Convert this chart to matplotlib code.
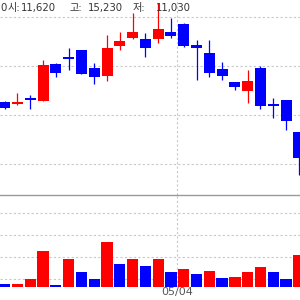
import matplotlib

matplotlib.use("Agg")
import matplotlib.pyplot as plt
import numpy as np

# daily candles (won)
opens = [12810, 12760, 12910, 12840, 13740, 13910, 14080, 13640, 13450, 14180, 14380, 14350,
         14350, 14520, 14720, 14200, 14010, 13620, 13300, 13080, 13640, 12760, 12860, 12080]
highs = [12840, 13030, 12980, 13840, 13770, 14130, 14080, 13770, 14450, 14520, 14990, 14500,
         15230, 14860, 14740, 14330, 14330, 13790, 13300, 13590, 13690, 12910, 12860, 12080]
lows = [12640, 12740, 12640, 12840, 13420, 13590, 13500, 13250, 13330, 14080, 14350, 13910,
        14250, 14380, 14160, 13350, 13420, 13350, 13110, 12790, 12640, 12420, 12130, 11030]
closes = [12670, 12810, 12860, 13720, 13520, 13860, 13500, 13420, 14130, 14300, 14520, 14130,
          14600, 14420, 14180, 14130, 13520, 13450, 13180, 13330, 12710, 12710, 12350, 11450]
volumes = [77600, 80000, 102000, 227800, 75000, 191900, 133600, 102200, 268200, 169500, 191900, 160500,
           191900, 133600, 147100, 124700, 138100, 106700, 111200, 133600, 156100, 133600, 102200, 209900]
date_labels = {14: "05/04"}
price_ticks = [14900, 13700, 12500, 11300]
volume_ticks = [100000, 200000, 300000, 400000]
# header pieces (text, left edge in px)
header = [("0", 0), ("시:", 8), ("11,620", 21), ("고:", 69), ("15,230", 88),
          ("저:", 133), ("11,030", 156)]

RED = "#ff0000"
BLUE = "#0000ff"
GRID = "#c8c8c8"

opens = np.array(opens)
closes = np.array(closes)
volumes = np.array(volumes)
x = np.arange(len(opens))
up = closes >= opens
candle_colors = [RED if u else BLUE for u in up]
vol_up = np.concatenate([[False], volumes[1:] >= volumes[:-1]])
vol_colors = [RED if u else BLUE for u in vol_up]

fig = plt.figure(figsize=(3, 3), dpi=100)
ax = fig.add_axes([0, 0.35, 1, 0.65])
vax = fig.add_axes([0, 0.045, 1, 0.305])

xlim = (-0.367, 23.09)

# price panel
for t in price_ticks:
    ax.axhline(t, color=GRID, lw=0.8, ls=(0, (2, 2)), zorder=0)
ax.vlines(x, lows, highs, colors=candle_colors, lw=0.9, zorder=2)
ax.bar(x, np.abs(closes - opens), bottom=np.minimum(opens, closes), width=0.86,
       color=candle_colors, zorder=3)
ax.set_xlim(xlim)
ax.set_ylim(10541, 15303)

# volume panel
for t in volume_ticks:
    vax.axhline(t, color=GRID, lw=0.8, ls=(0, (2, 2)), zorder=0)
vax.bar(x, volumes, width=0.88, color=vol_colors, zorder=3)
vax.set_xlim(xlim)
vax.set_ylim(68600, 478900)

for idx, lab in date_labels.items():
    for a in (ax, vax):
        a.axvline(idx - 0.5, color=GRID, lw=0.8, ls=(0, (2, 2)), zorder=0)
    vax.text(idx - 0.5, 68600, lab, ha="center", va="top", fontsize=8, color="#555555")

for a in (ax, vax):
    a.set_xticks([])
    a.set_yticks([])
    for s in a.spines.values():
        s.set_visible(False)
vax.spines["top"].set_visible(True)
vax.spines["top"].set_color("#999999")
vax.spines["top"].set_linewidth(1.0)

for txt, px in header:
    fig.text(px / 300, 1 - 8 / 300, txt, ha="left", va="center", fontsize=7.3,
             color="#333333", family=["DejaVu Sans", "Noto Sans CJK KR"])

fig.savefig("out.png", dpi=100)
plt.close(fig)
